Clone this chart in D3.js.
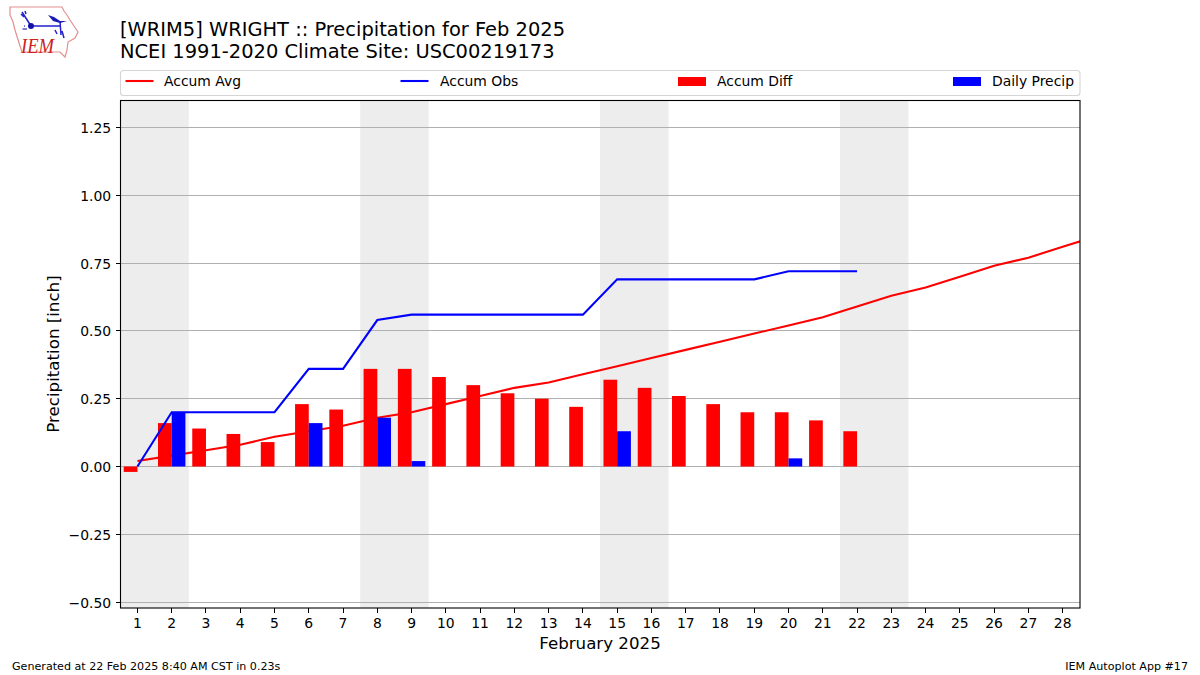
<!DOCTYPE html>
<html>
<head>
<meta charset="utf-8">
<script src="https://cdn.jsdelivr.net/npm/d3@7"></script>
<style>
html,body{margin:0;padding:0;background:#fff;}
svg{display:block;}
text{font-family:"DejaVu Sans",sans-serif;fill:#000;}
</style>
</head>
<body>
<svg id="chart" width="1200" height="675"></svg>
<script>
const titleLines = ["[WRIM5] WRIGHT :: Precipitation for Feb 2025", "NCEI 1991-2020 Climate Site: USC00219173"];
const avgDays = [1,2,3,4,5,6,7,8,9,10,11,12,13,14,15,16,17,18,19,20,21,22,23,24,25,26,27,28,29];
const accumAvg = [0.02,0.04,0.06,0.08,0.11,0.13,0.15,0.18,0.20,0.23,0.26,0.29,0.31,0.34,0.37,0.40,0.43,0.46,0.49,0.52,0.55,0.59,0.63,0.66,0.70,0.74,0.77,0.81,0.85];
const obsDays = [1,2,3,4,5,6,7,8,9,10,11,12,13,14,15,16,17,18,19,20,21,22];
const accumObs = [0,0.20,0.20,0.20,0.20,0.36,0.36,0.54,0.56,0.56,0.56,0.56,0.56,0.56,0.69,0.69,0.69,0.69,0.69,0.72,0.72,0.72];
const accumDiff = [-0.02,0.16,0.14,0.12,0.09,0.23,0.21,0.36,0.36,0.33,0.30,0.27,0.25,0.22,0.32,0.29,0.26,0.23,0.20,0.20,0.17,0.13];
const dailyPrecip = [0,0.20,0,0,0,0.16,0,0.18,0.02,0,0,0,0,0,0.13,0,0,0,0,0.03,0,0];
const weekends = [[0.5,2.5],[7.5,9.5],[14.5,16.5],[21.5,23.5]];
const xTicks = d3.range(1,29);
const yTicks = [-0.5,-0.25,0,0.25,0.5,0.75,1,1.25];
const barWidth = 0.4;

const svg = d3.select("#chart");
const L=120.5,R=1080,T=100.5,B=608;
const x = d3.scaleLinear().domain([0.5,28.5]).range([L-0.2,R-0.2]);
const y = d3.scaleLinear().domain([-0.5218,1.3496]).range([B,T]);

svg.append("defs").append("clipPath").attr("id","plot").append("rect")
  .attr("x",L).attr("y",T).attr("width",R-L).attr("height",B-T);
const plot = svg.append("g").attr("clip-path","url(#plot)");

plot.selectAll(".wk").data(weekends).join("rect").attr("class","wk")
  .attr("x",d=>x(d[0])).attr("width",d=>x(d[1])-x(d[0]))
  .attr("y",T).attr("height",B-T).attr("fill","#ededed");

plot.selectAll(".grid").data(yTicks).join("line").attr("class","grid")
  .attr("x1",L).attr("x2",R)
  .attr("y1",d=>Math.round(y(d)-0.5)+0.5).attr("y2",d=>Math.round(y(d)-0.5)+0.5)
  .attr("stroke","#b0b0b0").attr("stroke-width",1.1);

const line = d3.line().x(d=>x(d[0])).y(d=>y(d[1]));
plot.append("path").attr("d",line(d3.zip(avgDays,accumAvg)))
  .attr("fill","none").attr("stroke","#ff0000").attr("stroke-width",2.08);

plot.selectAll(".diff").data(d3.zip(obsDays,accumDiff)).join("rect").attr("class","diff")
  .attr("x",d=>x(d[0]-barWidth)).attr("width",x(barWidth)-x(0))
  .attr("y",d=>y(Math.max(0,d[1]))).attr("height",d=>Math.abs(y(d[1])-y(0)))
  .attr("fill","#ff0000");

plot.append("path").attr("d",line(d3.zip(obsDays,accumObs)))
  .attr("fill","none").attr("stroke","#0000ff").attr("stroke-width",2.08);

plot.selectAll(".pr").data(d3.zip(obsDays,dailyPrecip).filter(d=>d[1]>0)).join("rect").attr("class","pr")
  .attr("x",d=>x(d[0])).attr("width",x(barWidth)-x(0))
  .attr("y",d=>y(d[1])).attr("height",d=>y(0)-y(d[1]))
  .attr("fill","#0000ff");

// spines
svg.append("rect").attr("x",L).attr("y",T).attr("width",R-L).attr("height",B-T)
  .attr("fill","none").attr("stroke","#000").attr("stroke-width",1.1);

// axes
const xAxis = svg.append("g").attr("transform",`translate(0,${B})`)
  .call(d3.axisBottom(x).offset(0).tickValues(xTicks).tickSize(4.9).tickPadding(5).tickFormat(d3.format("d")));
const yAxis = svg.append("g").attr("transform",`translate(${L},0)`)
  .call(d3.axisLeft(y).offset(0).tickValues(yTicks).tickSize(4.9).tickPadding(4.5).tickFormat(d3.format(".2f")));
[xAxis,yAxis].forEach(a=>{
  a.select(".domain").remove();
  a.selectAll("line").attr("stroke","#000").attr("stroke-width",1).attr("shape-rendering","crispEdges");
  a.selectAll("text").style("font-family",'"DejaVu Sans",sans-serif').style("font-size","13.9px").attr("fill","#000");
});
yAxis.selectAll("text").attr("dy","0.39em");

// axis titles
svg.append("text").attr("x",600).attr("y",649).attr("text-anchor","middle").attr("font-size","16.67px").text("February 2025");
svg.append("text").attr("transform","translate(58.5,354) rotate(-90)").attr("text-anchor","middle").attr("font-size","16.67px").text("Precipitation [inch]");

// title
svg.selectAll(".title").data(titleLines).join("text").attr("class","title")
  .attr("x",120).attr("y",(d,i)=>35.5+i*22).attr("font-size","19.45px").text(d=>d);

// footer
svg.append("text").attr("x",12).attr("y",670).attr("font-size","11.12px").text("Generated at 22 Feb 2025 8:40 AM CST in 0.23s");
svg.append("text").attr("x",1188).attr("y",670).attr("text-anchor","end").attr("font-size","11.12px").text("IEM Autoplot App #17");

// legend
const legend = svg.append("g");
legend.append("rect").attr("x",120.5).attr("y",70.5).attr("width",959.5).attr("height",25).attr("rx",3)
  .attr("fill","#fff").attr("stroke","#d5d5d5").attr("stroke-width",1.1);
const legendItems = [
  {label:"Accum Avg",kind:"line",color:"#ff0000",x0:125.5,tx:164},
  {label:"Accum Obs",kind:"line",color:"#0000ff",x0:400.5,tx:440},
  {label:"Accum Diff",kind:"bar",color:"#ff0000",x0:678,tx:717},
  {label:"Daily Precip",kind:"bar",color:"#0000ff",x0:953,tx:992}
];
legendItems.forEach(it=>{
  if(it.kind==="line"){
    legend.append("line").attr("x1",it.x0).attr("x2",it.x0+28).attr("y1",81).attr("y2",81)
      .attr("stroke",it.color).attr("stroke-width",2.08);
  } else {
    legend.append("rect").attr("x",it.x0).attr("y",77).attr("width",28).attr("height",9).attr("fill",it.color);
  }
  legend.append("text").attr("x",it.tx).attr("y",86).attr("font-size","13.9px").text(it.label);
});

// logo
const logo = svg.append("g");
logo.append("path")
  .attr("d","M10,7 L62,7 L64,11 L67,15 L70,20 L74,26 L78,32 L75,38 L68,42 L67,50 L65,57 L60,52 L22,52 L20,46 L15,30 L13,22 L10,15 Z")
  .attr("fill","#fff").attr("stroke","#e39090").attr("stroke-width",1.2);
logo.append("path").attr("d","M31,26 L60,26 M22,12 L31,26 M60,21 L61,35 M21,14 L24,17 M25,11 L26,14 M55,30 L57,34 M62,31 L64,38")
  .attr("fill","none").attr("stroke","#2222cc").attr("stroke-width",1.5);
logo.append("path").attr("d","M48,15 L54,17 L60,21 L67,21 L60,23 L53,21 Z").attr("fill","#1a1ab8");
logo.append("circle").attr("cx",31).attr("cy",26).attr("r",3).attr("fill","#1111aa");
logo.append("path").attr("d","M24,26 L25,26 M22.5,29 L27,29").attr("stroke","#5555cc").attr("stroke-width",1.4);
logo.append("text").attr("x",21).attr("y",52.5).attr("font-size","20px").attr("font-style","italic")
  .attr("textLength",33).attr("lengthAdjust","spacingAndGlyphs")
  .style("font-family",'"Liberation Serif",serif').style("fill","#cc2222").text("IEM");
</script>
</body>
</html>
